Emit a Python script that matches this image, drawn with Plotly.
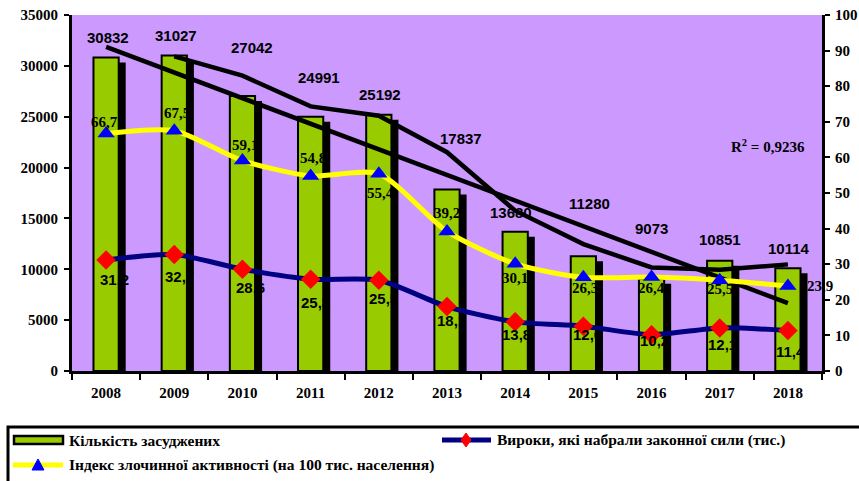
import numpy as np
import plotly.graph_objects as go

# ---------------- data ----------------
years = ["2008", "2009", "2010", "2011", "2012", "2013", "2014", "2015", "2016", "2017", "2018"]
convicted = [30832, 31027, 27042, 24991, 25192, 17837, 13680, 11280, 9073, 10851, 10114]
verdicts = [31.2, 32.7, 28.6, 25.8, 25.5, 18.1, 13.8, 12.6, 10.2, 12.1, 11.4]
crime_index = [66.7, 67.5, 59.1, 54.8, 55.4, 39.2, 30.1, 26.3, 26.4, 25.5, 23.9]
left_ticks = [0, 5000, 10000, 15000, 20000, 25000, 30000, 35000]
right_ticks = [0, 10, 20, 30, 40, 50, 60, 70, 80, 90, 100]

name_bar = "Кількість засуджених"
name_verd = "Вироки, які набрали законної сили (тис.)"
name_idx = "Індекс злочинної активності (на 100 тис. населення)"

# ---------------- layout geometry (screen pixels) ----------------
W, H = 859, 481
PL, PR, PT, PB = 72, 822, 15, 371   # plot area in screen pixels
YMAX = 35000


def fx(p):
    return (p - PL) / (PR - PL)


def fy(p):
    return (PB - p) / (PB - PT)


# derived series (Excel trendlines)
xi = np.arange(1, len(convicted) + 1)
slope, icpt = np.polyfit(xi, convicted, 1)
trend = slope * xi + icpt
mov_avg = [(convicted[i - 1] + convicted[i]) / 2 for i in range(1, len(convicted))]

# bar geometry
BAR_W = 0.37
SH_DX = 6 / ((PR - PL) / len(years))      # 6 px to the right
SH_DY = 6 * YMAX / (PB - PT)               # 6 px lower
shadow = [v - SH_DY for v in convicted]

# label offsets (px)
bar_lbl_dx = [2, 2, 10, 8, 1, 14, -4, 6, 0, 0, 1]
bar_lbl_dy = [20, 20, 48, 39, 20, 51, 19, 53, 50, 21, 20]
verd_lbl_dx = [8, 5, 8, 5, 5, 4, 1, 4, 3, 3, 3]
verd_lbl_dy = [20, 22, 18, 23, 18, 14, 13, 8, 6, 17, 21]
idx_lbl_dx = [-2, 3, 3, 2, 2, 0, 0, 2, 0, 0, 32]
idx_lbl_dy = [-12, -18, -16, -18, 19, -18, 14, 11, 11, 9, 0]

SERIF = "Liberation Serif, Times New Roman, serif"
SANS = "Liberation Sans, Arial, sans-serif"
NARROW = "Liberation Sans Narrow, Arial Narrow, Liberation Sans, Arial, sans-serif"


def fmt(v):
    return f"{v:.1f}".replace(".", ",")


fig = go.Figure()

# shadow bars
fig.add_trace(go.Bar(
    x=years, y=shadow, width=BAR_W, offset=-BAR_W / 2 + SH_DX,
    marker=dict(color="black", line=dict(color="black", width=2)),
    showlegend=False, hoverinfo="skip",
))
# main bars
fig.add_trace(go.Bar(
    x=years, y=convicted, width=BAR_W, offset=-BAR_W / 2, name=name_bar,
    marker=dict(color="#99CC00", line=dict(color="black", width=2)),
    showlegend=False,
))
# linear trend
fig.add_trace(go.Scatter(
    x=years, y=trend, mode="lines", line=dict(color="black", width=4.5),
    showlegend=False, hoverinfo="skip",
))
# 2-period moving average
fig.add_trace(go.Scatter(
    x=years[1:], y=mov_avg, mode="lines", line=dict(color="black", width=4.5),
    showlegend=False, hoverinfo="skip",
))
# crime index (right axis)
fig.add_trace(go.Scatter(
    x=years, y=crime_index, yaxis="y2", mode="lines+markers", name=name_idx,
    line=dict(color="#FFFF00", width=5, shape="spline", smoothing=0.7),
    marker=dict(symbol="triangle-up", size=15, color="#0000FF"),
    showlegend=False, cliponaxis=False,
))
# verdicts (right axis)
fig.add_trace(go.Scatter(
    x=years, y=verdicts, yaxis="y2", mode="lines+markers", name=name_verd,
    line=dict(color="#000080", width=5, shape="spline", smoothing=0.7),
    marker=dict(symbol="diamond", size=15, color="#FF0000"),
    showlegend=False, cliponaxis=False,
))

annotations = []
for i, (v, dx, dy) in enumerate(zip(convicted, bar_lbl_dx, bar_lbl_dy)):
    annotations.append(dict(
        x=i, y=v, xref="x", yref="y", text=str(v), showarrow=False,
        xshift=dx, yshift=dy, xanchor="center", yanchor="middle",
        font=dict(family=SANS, size=15, color="black", weight="bold"),
    ))
for i, (v, dx, dy) in enumerate(zip(verdicts, verd_lbl_dx, verd_lbl_dy)):
    annotations.append(dict(
        x=i, y=v, xref="x", yref="y2", text=fmt(v), showarrow=False,
        xshift=dx, yshift=-dy, xanchor="center", yanchor="middle",
        font=dict(family=NARROW, size=15, color="black", weight="bold"),
    ))
for i, (v, dx, dy) in enumerate(zip(crime_index, idx_lbl_dx, idx_lbl_dy)):
    annotations.append(dict(
        x=i, y=v, xref="x", yref="y2", text=fmt(v), showarrow=False,
        xshift=dx, yshift=-dy, xanchor="center", yanchor="middle",
        font=dict(family=SERIF, size=15, color="black", weight="bold"),
    ))
# R^2 note
annotations.append(dict(
    x=fx(768), y=fy(146), xref="paper", yref="paper", showarrow=False,
    text="R<sup>2</sup> = 0,9236", xanchor="center", yanchor="middle",
    font=dict(family=SERIF, size=15, color="black", weight="bold"),
))

# ---------- manual legend ----------
LFONT = dict(family=SERIF, size=15.5, color="black", weight="bold")
shapes = [
    dict(type="rect", xref="paper", yref="paper", x0=fx(8), x1=fx(880), y0=fy(427), y1=fy(500),
         line=dict(color="black", width=3), fillcolor="white", layer="below"),
    dict(type="rect", xref="paper", yref="paper", x0=fx(14), x1=fx(63), y0=fy(436), y1=fy(444),
         line=dict(color="black", width=2.5), fillcolor="#99CC00"),
    dict(type="line", xref="paper", yref="paper", x0=fx(442), x1=fx(491), y0=fy(440), y1=fy(440),
         line=dict(color="#000080", width=5)),
    dict(type="path", xref="paper", yref="paper", xsizemode="pixel", ysizemode="pixel",
         xanchor=fx(466), yanchor=fy(440), path="M0,7 L5,0 L0,-7 L-5,0 Z",
         fillcolor="#FF0000", line=dict(color="#FF0000", width=1)),
    dict(type="line", xref="paper", yref="paper", x0=fx(13), x1=fx(63), y0=fy(465), y1=fy(465),
         line=dict(color="#FFFF00", width=5)),
    dict(type="path", xref="paper", yref="paper", xsizemode="pixel", ysizemode="pixel",
         xanchor=fx(38), yanchor=fy(465), path="M-6,-5 L6,-5 L0,6 Z",
         fillcolor="#0000FF", line=dict(color="#0000FF", width=1)),
]
annotations += [
    dict(x=fx(67), y=fy(440), xref="paper", yref="paper", text=name_bar, showarrow=False,
         xanchor="left", yanchor="middle", font=LFONT),
    dict(x=fx(495), y=fy(440), xref="paper", yref="paper", text=name_verd, showarrow=False,
         xanchor="left", yanchor="middle", font=LFONT),
    dict(x=fx(67), y=fy(465), xref="paper", yref="paper", text=name_idx, showarrow=False,
         xanchor="left", yanchor="middle", font=LFONT),
]

TICKFONT = dict(family=SERIF, size=15, color="black", weight="bold")
fig.update_layout(
    width=W, height=H,
    margin=dict(l=PL, r=W - PR, t=PT, b=H - PB, pad=0, autoexpand=False),
    paper_bgcolor="white", plot_bgcolor="#CC99FF",
    barmode="overlay", showlegend=False, hovermode=False,
    xaxis=dict(type="category", categoryorder="array", categoryarray=years,
               range=[-0.5, len(years) - 0.5], tickson="boundaries",
               ticks="outside", ticklen=6, tickwidth=2, tickcolor="black",
               showline=True, linecolor="black", linewidth=3, showgrid=False,
               tickfont=TICKFONT, ticklabelstandoff=6, zeroline=False,
               automargin=False),
    yaxis=dict(range=[0, YMAX], tickvals=left_ticks, ticktext=[str(t) for t in left_ticks],
               ticks="outside", ticklen=5,
               tickwidth=2, tickcolor="black", showline=True, linecolor="black",
               linewidth=3, showgrid=False, zeroline=False, tickfont=TICKFONT,
               ticklabelstandoff=3, ticklabeloverflow="allow", automargin=False),
    yaxis2=dict(range=[0, 100], tickvals=right_ticks, ticktext=[str(t) for t in right_ticks],
                overlaying="y", side="right",
                ticks="outside", ticklen=5, tickwidth=2, tickcolor="black",
                showline=True, linecolor="black", linewidth=3, showgrid=False,
                zeroline=False, tickfont=TICKFONT, ticklabelstandoff=2,
                ticklabeloverflow="allow", automargin=False),
    shapes=shapes, annotations=annotations,
)

fig.write_html(
    "out.html",
    config={"displayModeBar": False},
    post_script="document.body.style.margin='0';document.body.style.overflow='hidden';",
)
